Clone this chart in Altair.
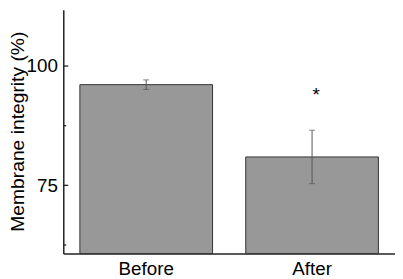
import altair as alt
import pandas as pd

groups = ["Before", "After"]
means = [96.1, 80.95]
errors = [1.0, 5.6]
y_min = 60.7
y_max = 111.8
major_ticks = [100, 75]
minor_ticks = [87.5, 62.5]
star_label = "*"
star_value = 92.6

df = pd.DataFrame({
    "group": groups,
    "mean": means,
    "lo": [m - e for m, e in zip(means, errors)],
    "hi": [m + e for m, e in zip(means, errors)],
})
df_major = pd.DataFrame({"v": major_ticks})
df_minor = pd.DataFrame({"v": minor_ticks})
df_star = pd.DataFrame({"group": [groups[1]], "v": [star_value], "t": [star_label]})

FONT = "Liberation Sans"
yscale = alt.Scale(domain=[y_min, y_max], nice=False, zero=False)
xenc = alt.X("group:N", sort=groups,
             scale=alt.Scale(paddingInner=0.2, paddingOuter=0.1),
             axis=alt.Axis(title=None, ticks=False, labelAngle=0, labelFontSize=19,
                           labelFont=FONT, labelColor="#000", labelPadding=6,
                           domainColor="#222", domainWidth=1.5))
yaxis = alt.Axis(title="Membrane integrity (%)", values=major_ticks, tickSize=0,
                 labelFontSize=19, labelFont=FONT, labelColor="#000", labelPadding=6,
                 titleFontSize=19.5, titleFont=FONT, titleFontWeight="normal",
                 titleColor="#000", titleBaseline="middle", titleX=-46.5,
                 titleY=123, grid=False,
                 domainColor="#222", domainWidth=1.5)

base = alt.Chart(df)
bars = base.mark_bar(color="#989898", stroke="#333333", strokeWidth=1).encode(
    x=xenc,
    y=alt.Y("mean:Q", scale=yscale, axis=yaxis),
    y2=alt.datum(y_min),
)
err = base.mark_rule(color="#555555", strokeWidth=1).encode(
    x=alt.X("group:N", sort=groups), y=alt.Y("lo:Q", scale=yscale), y2="hi:Q")
cap_lo = base.mark_tick(color="#555555", thickness=1, size=6).encode(
    x=alt.X("group:N", sort=groups), y=alt.Y("lo:Q", scale=yscale))
cap_hi = base.mark_tick(color="#555555", thickness=1, size=6).encode(
    x=alt.X("group:N", sort=groups), y=alt.Y("hi:Q", scale=yscale))
maj = alt.Chart(df_major).mark_rule(color="#222", strokeWidth=1.3).encode(
    x=alt.value(0), x2=alt.value(5), y=alt.Y("v:Q", scale=yscale))
mnr = alt.Chart(df_minor).mark_rule(color="#222", strokeWidth=1.3).encode(
    x=alt.value(0), x2=alt.value(3), y=alt.Y("v:Q", scale=yscale))
star = alt.Chart(df_star).mark_text(fontSize=19, font=FONT, color="#000",
                                    baseline="alphabetic", dx=4).encode(
    x=alt.X("group:N", sort=groups), y=alt.Y("v:Q", scale=yscale), text="t:N")

chart = alt.layer(bars, err, cap_lo, cap_hi, maj, mnr, star).properties(
    width=336, height=247,
    autosize=alt.AutoSizeParams(type="none"),
    padding={"left": 56, "top": 0, "right": 0, "bottom": 24},
).configure_view(stroke=None).configure_axis(grid=False)

chart.save("out.html", embed_options={"renderer": "svg", "actions": False})
